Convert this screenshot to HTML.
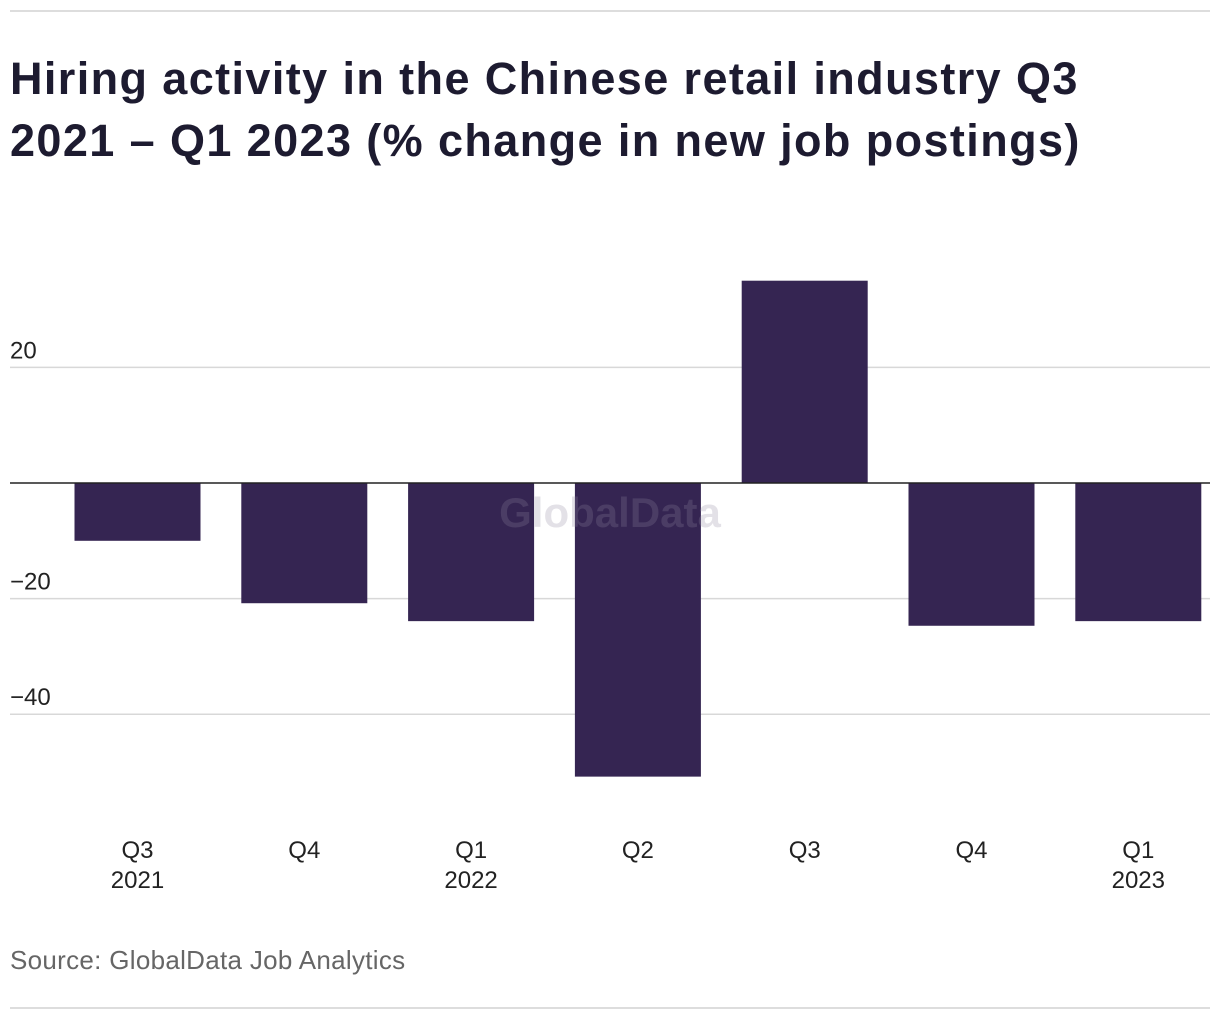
<!DOCTYPE html>
<html><head><meta charset="utf-8"><style>
body{margin:0;background:#fff;font-family:"Liberation Sans",sans-serif;}
#wrap{position:relative;width:1220px;height:1020px;overflow:hidden;}
.rule{position:absolute;left:10px;width:1200px;height:2px;background:#ddd;}
h1{position:absolute;left:10px;top:48px;margin:0;font-size:45px;line-height:62px;font-weight:bold;color:#1d1b30;width:1120px;letter-spacing:1.4px;}
#src{position:absolute;left:10px;top:945px;font-size:26px;color:#666;letter-spacing:0.3px;}
</style></head><body>
<div id="wrap">
<div class="rule" style="top:10px"></div>
<h1>Hiring activity in the Chinese retail industry Q3 2021 – Q1 2023 (% change in new job postings)</h1>
<svg id="chart" width="1220" height="1020" style="position:absolute;left:0;top:0"></svg>
<div id="src">Source: GlobalData Job Analytics</div>
<div class="rule" style="top:1007px"></div>
</div>
<script>
const categories=["Q3|2021","Q4","Q1|2022","Q2","Q3","Q4","Q1|2023"];
const values=[-10,-20.8,-23.9,-50.8,35,-24.7,-23.9];
const yTicks=[20,0,-20,-40];
const yTickLabels=["20","","\u221220","\u221240"];
const NS="http://www.w3.org/2000/svg";
const svg=document.getElementById('chart');
function y(v){return 483-v*5.78;}
function xc(i){return 137.5+i*166.8;}
const bw=126;
function mk(t,a){const e=document.createElementNS(NS,t);for(const k in a)e.setAttribute(k,a[k]);svg.appendChild(e);return e;}
yTicks.forEach((t,i)=>{
 if(t!==0){const l=mk('line',{x1:10,x2:1210,y1:y(t),y2:y(t),stroke:'#d8d8d8','stroke-width':1.5});
 
 }
 if(yTickLabels[i]){const tx=mk('text',{x:10,y:y(t)-9,'font-size':24,fill:'#222','font-family':'Liberation Sans, sans-serif'});tx.textContent=yTickLabels[i];
 
 }
});
values.forEach((v,i)=>{
 const r=mk('rect',{x:xc(i)-bw/2,y:Math.min(y(v),y(0)),width:bw,height:Math.abs(y(v)-y(0)),fill:'#352552'});
 
 
 const parts=categories[i].split('|');
 parts.forEach((p,j)=>{const t=mk('text',{x:xc(i),y:858+j*30,'text-anchor':'middle','font-size':24,fill:'#222','font-family':'Liberation Sans, sans-serif'});t.textContent=p;
 
 });
});
const z=mk('line',{x1:10,x2:1210,y1:y(0),y2:y(0),stroke:'#222','stroke-width':1.5});


const wm=mk('text',{x:610,y:527,'text-anchor':'middle','font-size':42,'font-weight':'bold',fill:'#8e88a0','fill-opacity':0.25,'font-family':'Liberation Sans, sans-serif'});wm.textContent='GlobalData';


</script>
</body></html>
